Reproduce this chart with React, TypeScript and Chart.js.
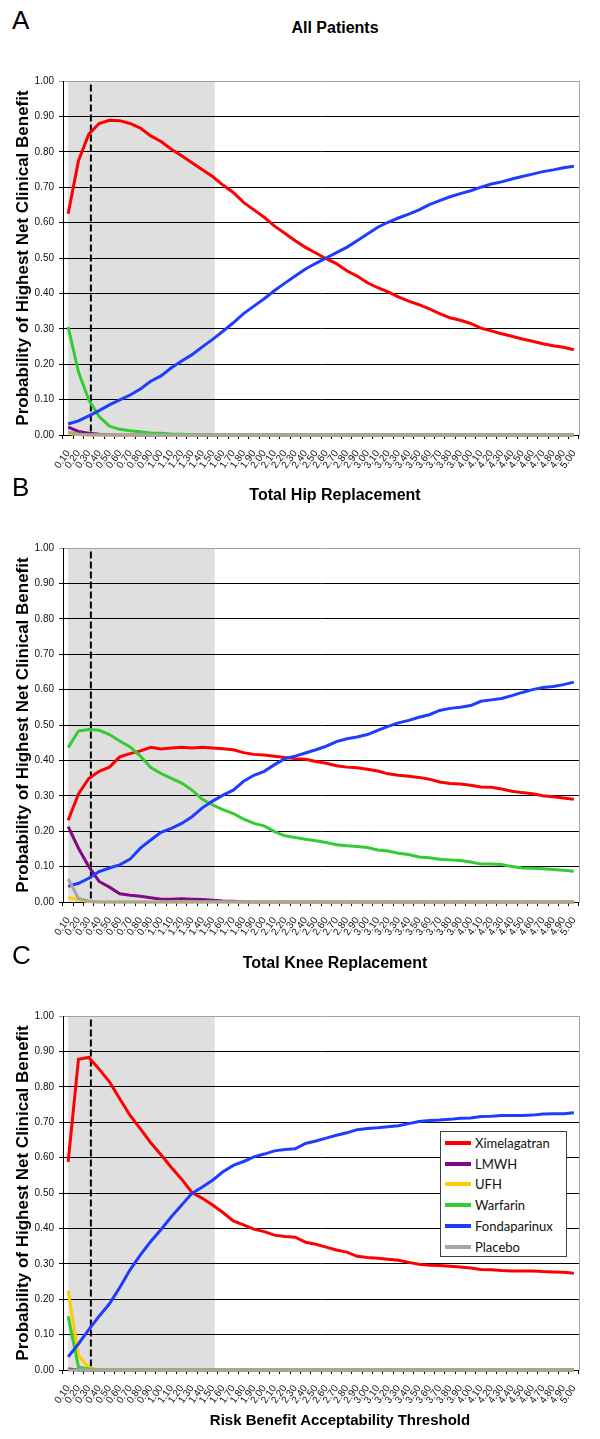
import React, { useEffect, useRef } from "react";
import { Chart, registerables } from "chart.js";

Chart.register(...registerables);

// ---------- data ----------
const thresholds = [
  "0.10", "0.20", "0.30", "0.40", "0.50", "0.60", "0.70", "0.80", "0.90", "1.00",
  "1.10", "1.20", "1.30", "1.40", "1.50", "1.60", "1.70", "1.80", "1.90", "2.00",
  "2.10", "2.20", "2.30", "2.40", "2.50", "2.60", "2.70", "2.80", "2.90", "3.00",
  "3.10", "3.20", "3.30", "3.40", "3.50", "3.60", "3.70", "3.80", "3.90", "4.00",
  "4.10", "4.20", "4.30", "4.40", "4.50", "4.60", "4.70", "4.80", "4.90", "5.00",
];

const seriesNames = ["Ximelagatran", "LMWH", "UFH", "Warfarin", "Fondaparinux", "Placebo"];
const seriesColors = ["#ff0000", "#7f0a84", "#ffcc00", "#33cc33", "#1f3dff", "#a6a6a6"];

const yTickValues = [0, 0.1, 0.2, 0.3, 0.4, 0.5, 0.6, 0.7, 0.8, 0.9, 1.0];
const shadeFrom = 0.10;
const shadeTo = 1.52;
const acceptabilityLine = 0.32;
const acceptabilityTop = 0.99;

// Panel A: All Patients
const allXimelagatran = [
  0.625, 0.775, 0.85, 0.88, 0.889, 0.888, 0.88, 0.867, 0.845, 0.829,
  0.807, 0.789, 0.769, 0.749, 0.73, 0.706, 0.685, 0.657, 0.636, 0.615,
  0.59, 0.57, 0.549, 0.53, 0.514, 0.498, 0.484, 0.464, 0.449, 0.43,
  0.416, 0.404, 0.39, 0.378, 0.368, 0.356, 0.343, 0.331, 0.324, 0.315,
  0.302, 0.294, 0.286, 0.279, 0.271, 0.265, 0.258, 0.252, 0.248, 0.241,
];
const allLMWH = [
  0.022, 0.01, 0.005, 0.002, 0.001, 0, 0, 0, 0, 0,
  0, 0, 0, 0, 0, 0, 0, 0, 0, 0,
  0, 0, 0, 0, 0, 0, 0, 0, 0, 0,
  0, 0, 0, 0, 0, 0, 0, 0, 0, 0,
  0, 0, 0, 0, 0, 0, 0, 0, 0, 0,
];
const allUFH = [
  0.004, 0.001, 0, 0, 0, 0, 0, 0, 0, 0,
  0, 0, 0, 0, 0, 0, 0, 0, 0, 0,
  0, 0, 0, 0, 0, 0, 0, 0, 0, 0,
  0, 0, 0, 0, 0, 0, 0, 0, 0, 0,
  0, 0, 0, 0, 0, 0, 0, 0, 0, 0,
];
const allWarfarin = [
  0.305, 0.178, 0.099, 0.052, 0.025, 0.016, 0.012, 0.009, 0.006, 0.005,
  0.003, 0.002, 0.001, 0, 0, 0, 0, 0, 0, 0,
  0, 0, 0, 0, 0, 0, 0, 0, 0, 0,
  0, 0, 0, 0, 0, 0, 0, 0, 0, 0,
  0, 0, 0, 0, 0, 0, 0, 0, 0, 0,
];
const allFondaparinux = [
  0.031, 0.04, 0.054, 0.069, 0.085, 0.099, 0.113, 0.13, 0.152, 0.167,
  0.19, 0.209, 0.227, 0.249, 0.27, 0.293, 0.317, 0.343, 0.364, 0.385,
  0.408, 0.429, 0.449, 0.469, 0.485, 0.5, 0.515, 0.53, 0.549, 0.568,
  0.587, 0.601, 0.613, 0.624, 0.636, 0.651, 0.662, 0.673, 0.682, 0.69,
  0.7, 0.709, 0.715, 0.723, 0.73, 0.737, 0.744, 0.749, 0.755, 0.759,
];
const allPlacebo = [
  0.008, 0.003, 0, 0, 0, 0, 0, 0, 0, 0,
  0, 0, 0, 0, 0, 0, 0, 0, 0, 0,
  0, 0, 0, 0, 0, 0, 0, 0, 0, 0,
  0, 0, 0, 0, 0, 0, 0, 0, 0, 0,
  0, 0, 0, 0, 0, 0, 0, 0, 0, 0,
];

// Panel B: Total Hip Replacement
const hipXimelagatran = [
  0.231, 0.305, 0.349, 0.369, 0.381, 0.41, 0.419, 0.427, 0.437, 0.432,
  0.435, 0.437, 0.435, 0.437, 0.435, 0.433, 0.43, 0.422, 0.417, 0.415,
  0.412, 0.408, 0.405, 0.403, 0.397, 0.392, 0.385, 0.381, 0.379, 0.375,
  0.37, 0.362, 0.358, 0.355, 0.352, 0.347, 0.339, 0.335, 0.333, 0.33,
  0.325, 0.324, 0.319, 0.313, 0.309, 0.306, 0.3, 0.297, 0.294, 0.29,
];
const hipLMWH = [
  0.213, 0.152, 0.1, 0.058, 0.042, 0.023, 0.019, 0.016, 0.012, 0.008,
  0.008, 0.009, 0.008, 0.007, 0.005, 0.003, 0.002, 0.001, 0, 0,
  0, 0, 0, 0, 0, 0, 0, 0, 0, 0,
  0, 0, 0, 0, 0, 0, 0, 0, 0, 0,
  0, 0, 0, 0, 0, 0, 0, 0, 0, 0,
];
const hipUFH = [
  0.013, 0.006, 0.001, 0, 0, 0, 0, 0, 0, 0,
  0, 0, 0, 0, 0, 0, 0, 0, 0, 0,
  0, 0, 0, 0, 0, 0, 0, 0, 0, 0,
  0, 0, 0, 0, 0, 0, 0, 0, 0, 0,
  0, 0, 0, 0, 0, 0, 0, 0, 0, 0,
];
const hipWarfarin = [
  0.436, 0.483, 0.487, 0.485, 0.473, 0.455, 0.438, 0.412, 0.38, 0.363,
  0.349, 0.336, 0.316, 0.29, 0.274, 0.261, 0.25, 0.234, 0.222, 0.215,
  0.199, 0.187, 0.182, 0.177, 0.173, 0.168, 0.162, 0.159, 0.157, 0.154,
  0.147, 0.144, 0.138, 0.134, 0.127, 0.125, 0.121, 0.119, 0.117, 0.113,
  0.107, 0.107, 0.106, 0.1, 0.096, 0.095, 0.094, 0.092, 0.09, 0.087,
];
const hipFondaparinux = [
  0.044, 0.053, 0.067, 0.086, 0.096, 0.105, 0.121, 0.152, 0.175, 0.197,
  0.208, 0.222, 0.241, 0.266, 0.285, 0.302, 0.316, 0.341, 0.358, 0.369,
  0.388, 0.405, 0.412, 0.421, 0.43, 0.44, 0.453, 0.461, 0.466, 0.473,
  0.485, 0.496, 0.506, 0.513, 0.522, 0.529, 0.541, 0.547, 0.55, 0.555,
  0.567, 0.571, 0.575, 0.583, 0.592, 0.6, 0.606, 0.609, 0.614, 0.621,
];
const hipPlacebo = [
  0.065, 0.01, 0.003, 0, 0, 0, 0, 0, 0, 0,
  0, 0, 0, 0, 0, 0, 0, 0, 0, 0,
  0, 0, 0, 0, 0, 0, 0, 0, 0, 0,
  0, 0, 0, 0, 0, 0, 0, 0, 0, 0,
  0, 0, 0, 0, 0, 0, 0, 0, 0, 0,
];

// Panel C: Total Knee Replacement
const kneeXimelagatran = [
  0.588, 0.878, 0.883, 0.85, 0.814, 0.766, 0.719, 0.681, 0.642, 0.608,
  0.572, 0.539, 0.501, 0.485, 0.466, 0.445, 0.421, 0.41, 0.398, 0.391,
  0.381, 0.377, 0.375, 0.361, 0.355, 0.347, 0.339, 0.333, 0.321, 0.318,
  0.316, 0.313, 0.31, 0.304, 0.299, 0.296, 0.295, 0.293, 0.291, 0.288,
  0.284, 0.283, 0.281, 0.28, 0.28, 0.28, 0.278, 0.277, 0.276, 0.273,
];
const kneeLMWH = [
  0.003, 0, 0, 0, 0, 0, 0, 0, 0, 0,
  0, 0, 0, 0, 0, 0, 0, 0, 0, 0,
  0, 0, 0, 0, 0, 0, 0, 0, 0, 0,
  0, 0, 0, 0, 0, 0, 0, 0, 0, 0,
  0, 0, 0, 0, 0, 0, 0, 0, 0, 0,
];
const kneeUFH = [
  0.224, 0.041, 0.007, 0.001, 0, 0, 0, 0, 0, 0,
  0, 0, 0, 0, 0, 0, 0, 0, 0, 0,
  0, 0, 0, 0, 0, 0, 0, 0, 0, 0,
  0, 0, 0, 0, 0, 0, 0, 0, 0, 0,
  0, 0, 0, 0, 0, 0, 0, 0, 0, 0,
];
const kneeWarfarin = [
  0.152, 0.008, 0.003, 0, 0, 0, 0, 0, 0, 0,
  0, 0, 0, 0, 0, 0, 0, 0, 0, 0,
  0, 0, 0, 0, 0, 0, 0, 0, 0, 0,
  0, 0, 0, 0, 0, 0, 0, 0, 0, 0,
  0, 0, 0, 0, 0, 0, 0, 0, 0, 0,
];
const kneeFondaparinux = [
  0.037, 0.074, 0.114, 0.152, 0.187, 0.233, 0.283, 0.325, 0.363, 0.397,
  0.433, 0.466, 0.499, 0.517, 0.536, 0.56, 0.578, 0.589, 0.602, 0.61,
  0.619, 0.623, 0.625, 0.64, 0.647, 0.655, 0.663, 0.67, 0.679, 0.682,
  0.684, 0.687, 0.69, 0.696, 0.702, 0.705, 0.706, 0.708, 0.711, 0.712,
  0.716, 0.717, 0.719, 0.719, 0.719, 0.72, 0.723, 0.724, 0.724, 0.727,
];
const kneePlacebo = [
  0, 0, 0, 0, 0, 0, 0, 0, 0, 0,
  0, 0, 0, 0, 0, 0, 0, 0, 0, 0,
  0, 0, 0, 0, 0, 0, 0, 0, 0, 0,
  0, 0, 0, 0, 0, 0, 0, 0, 0, 0,
  0, 0, 0, 0, 0, 0, 0, 0, 0, 0,
];

const yAxisTitle = "Probability of Highest Net Clinical Benefit";
const xAxisTitle = "Risk Benefit Acceptability Threshold";

const panels = [
  { letter: "A", title: "All Patients", offset: 0,
    series: [allXimelagatran, allLMWH, allUFH, allWarfarin, allFondaparinux, allPlacebo] },
  { letter: "B", title: "Total Hip Replacement", offset: 467,
    series: [hipXimelagatran, hipLMWH, hipUFH, hipWarfarin, hipFondaparinux, hipPlacebo] },
  { letter: "C", title: "Total Knee Replacement", offset: 935,
    series: [kneeXimelagatran, kneeLMWH, kneeUFH, kneeWarfarin, kneeFondaparinux, kneePlacebo] },
];

// ---------- drawing ----------
const FONT = "'Liberation Sans', Arial, sans-serif";
const CANVAS_W = 600;
const CANVAS_H = 410;

function thresholdToIndex(v: number): number {
  const first = parseFloat(thresholds[0]);
  const step = parseFloat(thresholds[1]) - first;
  return (v - first) / step;
}

const bandPlugin = {
  id: "acceptabilityBand",
  beforeDraw(chart: any) {
    const { ctx, scales } = chart;
    const x = scales.x;
    const y = scales.y;
    const x0 = x.getPixelForValue(thresholdToIndex(shadeFrom));
    const x1 = x.getPixelForValue(thresholdToIndex(shadeTo));
    const yTop = y.getPixelForValue(1);
    const yBot = y.getPixelForValue(0);
    ctx.save();
    ctx.fillStyle = "#dfdfdf";
    ctx.fillRect(x0, yTop, x1 - x0, yBot - yTop);
    ctx.restore();
  },
  beforeDatasetsDraw(chart: any) {
    const { ctx, scales, chartArea } = chart;
    const x = scales.x;
    const y = scales.y;
    ctx.save();
    ctx.strokeStyle = "#a6a6a6";
    ctx.lineWidth = 1;
    ctx.beginPath();
    const rx = Math.round(chartArea.right) + 0.5;
    ctx.moveTo(rx, chartArea.top);
    ctx.lineTo(rx, chartArea.bottom + 1);
    ctx.stroke();
    const dx = x.getPixelForValue(thresholdToIndex(acceptabilityLine));
    ctx.strokeStyle = "#000";
    ctx.lineWidth = 2;
    ctx.setLineDash([7, 3]);
    ctx.beginPath();
    ctx.moveTo(dx, y.getPixelForValue(acceptabilityTop));
    ctx.lineTo(dx, y.getPixelForValue(0));
    ctx.stroke();
    ctx.restore();
  },
};

function PanelChart({ series }: { series: number[][] }) {
  const ref = useRef<HTMLCanvasElement | null>(null);
  useEffect(() => {
    if (!ref.current) return;
    const chart = new Chart(ref.current, {
      type: "line",
      data: {
        labels: thresholds,
        datasets: series.map((d, i) => ({
          label: seriesNames[i],
          data: d,
          borderColor: seriesColors[i],
          backgroundColor: seriesColors[i],
          borderWidth: 3,
          pointRadius: 0,
          pointHoverRadius: 0,
          tension: 0,
          fill: false,
          clip: 6,
          order: seriesNames.length - 1 - i,
        })),
      },
      options: {
        responsive: false,
        animation: false,
        devicePixelRatio: 1,
        events: [],
        layout: { padding: { left: 0, right: 21, top: 10, bottom: 0 } },
        plugins: {
          legend: { display: false },
          tooltip: { enabled: false },
          title: { display: false },
        },
        scales: {
          x: {
            type: "category",
            offset: true,
            grid: {
              offset: true,
              drawOnChartArea: false,
              drawTicks: true,
              tickLength: 4,
              color: "#000",
              lineWidth: 1,
            },
            border: { display: true, color: "#000", width: 1 },
            ticks: {
              autoSkip: false,
              minRotation: 55,
              maxRotation: 55,
              padding: 9,
              color: "#111",
              font: { family: FONT, size: 10 },
            },
            afterFit: (s: any) => {
              s.height = 45;
            },
          },
          y: {
            type: "linear",
            min: 0,
            max: 1,
            afterBuildTicks: (s: any) => {
              s.ticks = yTickValues.map((v) => ({ value: v }));
            },
            ticks: {
              callback: (v: any) => Number(v).toFixed(2),
              padding: 5,
              color: "#111",
              font: { family: FONT, size: 10 },
            },
            grid: {
              color: (c: any) => (c.tick && c.tick.value >= 1 ? "#a0a0a0" : "#000"),
              lineWidth: 1,
              tickLength: 4,
              drawTicks: true,
            },
            border: { display: true, color: "#000", width: 1 },
            title: {
              display: true,
              text: yAxisTitle,
              color: "#000",
              font: { family: FONT, size: 17, weight: "bold" },
              padding: { top: 13, bottom: 0 },
            },
            afterFit: (s: any) => {
              s.width = 63;
            },
          },
        },
      } as any,
      plugins: [bandPlugin],
    });
    return () => chart.destroy();
  }, [series]);
  return (
    <canvas
      ref={ref}
      width={CANVAS_W}
      height={CANVAS_H}
      style={{ position: "absolute", left: 0, top: 70, width: CANVAS_W, height: CANVAS_H, display: "block" }}
    />
  );
}

function Legend() {
  return (
    <div
      style={{
        position: "absolute",
        left: 440,
        top: 196,
        width: 127,
        height: 126,
        boxSizing: "border-box",
        border: "1px solid #404040",
        background: "#fff",
      }}
    >
      {seriesNames.map((name, i) => (
        <div
          key={name}
          style={{
            position: "absolute",
            left: 0,
            top: 10.7 + i * 20.8 - 10,
            height: 20,
            width: 125,
            display: "flex",
            alignItems: "center",
          }}
        >
          <div style={{ marginLeft: 4, width: 26, height: 4, background: seriesColors[i] }} />
          <span
            style={{
              marginLeft: 4,
              fontFamily: "Lato, 'Open Sans', sans-serif",
              fontSize: 13,
              color: "#111",
              lineHeight: "20px",
            }}
          >
            {name}
          </span>
        </div>
      ))}
    </div>
  );
}

export default function App() {
  return (
    <div
      style={{
        position: "absolute",
        left: 0,
        top: 0,
        width: 600,
        height: 1439,
        background: "#fff",
        overflow: "hidden",
      }}
    >
      {panels.map((p, idx) => (
        <div
          key={p.letter}
          style={{ position: "absolute", left: 0, top: p.offset, width: 600, height: 504 }}
        >
          <div
            style={{
              position: "absolute",
              left: 12,
              top: 5,
              fontFamily: FONT,
              fontSize: 26,
              lineHeight: "30px",
              color: "#000",
            }}
          >
            {p.letter}
          </div>
          <div
            style={{
              position: "absolute",
              left: 0,
              top: 18,
              width: 670,
              textAlign: "center",
              fontFamily: FONT,
              fontWeight: "bold",
              fontSize: 16,
              lineHeight: "20px",
              color: "#000",
            }}
          >
            {p.title}
          </div>
          <PanelChart series={p.series} />
          {idx === panels.length - 1 && <Legend />}
          {idx === panels.length - 1 && (
            <div
              style={{
                position: "absolute",
                left: 0,
                top: 476,
                width: 680,
                textAlign: "center",
                fontFamily: FONT,
                fontWeight: "bold",
                fontSize: 15,
                lineHeight: "18px",
                color: "#000",
              }}
            >
              {xAxisTitle}
            </div>
          )}
        </div>
      ))}
    </div>
  );
}
